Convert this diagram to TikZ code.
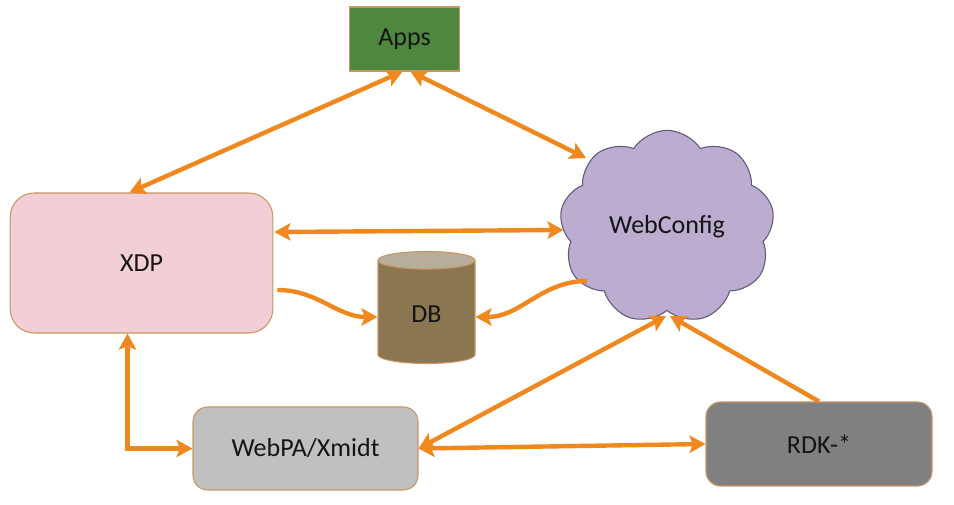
\documentclass[tikz,border=0pt]{standalone}
\usepackage{fontspec}
\setmainfont{Carlito}
\usetikzlibrary{shapes.geometric, shapes.symbols, arrows.meta, positioning, calc}
\definecolor{arrowc}{RGB}{240,136,30}
\definecolor{edgec}{RGB}{201,150,100}
\definecolor{appsc}{RGB}{78,135,62}
\definecolor{xdpc}{RGB}{242,207,214}
\definecolor{cloudc}{RGB}{188,172,208}
\definecolor{cloudedge}{RGB}{94,90,120}
\definecolor{dbbody}{RGB}{139,118,82}
\definecolor{dbtop}{RGB}{182,174,152}
\definecolor{webpac}{RGB}{192,192,192}
\definecolor{rdkc}{RGB}{128,128,128}

\begin{document}
\begin{tikzpicture}[x=0.75pt, y=-0.75pt,
    box/.style={draw=edgec, line width=0.8pt, text=black!92,
        font=\fontsize{19.5}{23}\selectfont},
    tip/.tip={Stealth[length=12pt, width=13pt, inset=2.5pt]},
    link/.style={draw=arrowc, line width=3.3pt, tip-tip},
    onelink/.style={draw=arrowc, line width=3.3pt, -tip}]
\useasboundingbox (0,0) rectangle (954,505);

\node (apps) [box, fill=appsc, minimum width=83pt, minimum height=48pt] at (404.5,39) {Apps};
\node (xdp) [box, fill=xdpc, rounded corners=18pt, minimum width=197pt, minimum height=105pt] at (141.5,263) {XDP};
\node (db) [box, cylinder, shape border rotate=90, aspect=0.45, cylinder uses custom fill,
    cylinder body fill=dbbody, cylinder end fill=dbtop, minimum width=72.75pt, minimum height=84pt] at (426.5,314) {DB};
\node (wc) [box, draw=cloudedge, fill=cloudc, cloud, cloud puffs=9, cloud puff arc=115, aspect=1.1,
    minimum width=161pt, minimum height=145pt, inner sep=0pt] at (667,227) {WebConfig};
\node (webpa) [box, fill=webpac, rounded corners=11pt, minimum width=168.75pt, minimum height=62.25pt] at (305.5,448.5) {WebPA/Xmidt};
\node (rdk) [box, fill=rdkc, rounded corners=11pt, minimum width=169.5pt, minimum height=63pt] at (819,444) {RDK-*};

% links round Apps
\draw [link] ($(apps.south)+(-2,0)$) -- ($(xdp.north)+(-12,0)$);
\draw [link] ($(apps.south)+(6,0)$) -- ($(wc.center)+(-81,-69)$);
\draw [link] ($(xdp.east)+(1,-31)$) -- ($(wc.west)+(2,3)$);

% links into DB
\draw [onelink] ($(xdp.east)+(4,27)$) to[out=0, in=180] ($(db.west)+(0,3)$);
\draw [onelink] ($(wc.center)+(-80,54)$) to[out=180, in=0] ($(db.east)+(0,3)$);

% lower links
\draw [link] ($(xdp.south)+(-14,0)$) |- (webpa.west);
\draw [link] (webpa.east) -- ($(wc.center)+(-1,89)$);
\draw [link] (webpa.east) -- (rdk.west);
\draw [onelink] (rdk.north) -- ($(wc.center)+(3,89)$);
\end{tikzpicture}
\end{document}
